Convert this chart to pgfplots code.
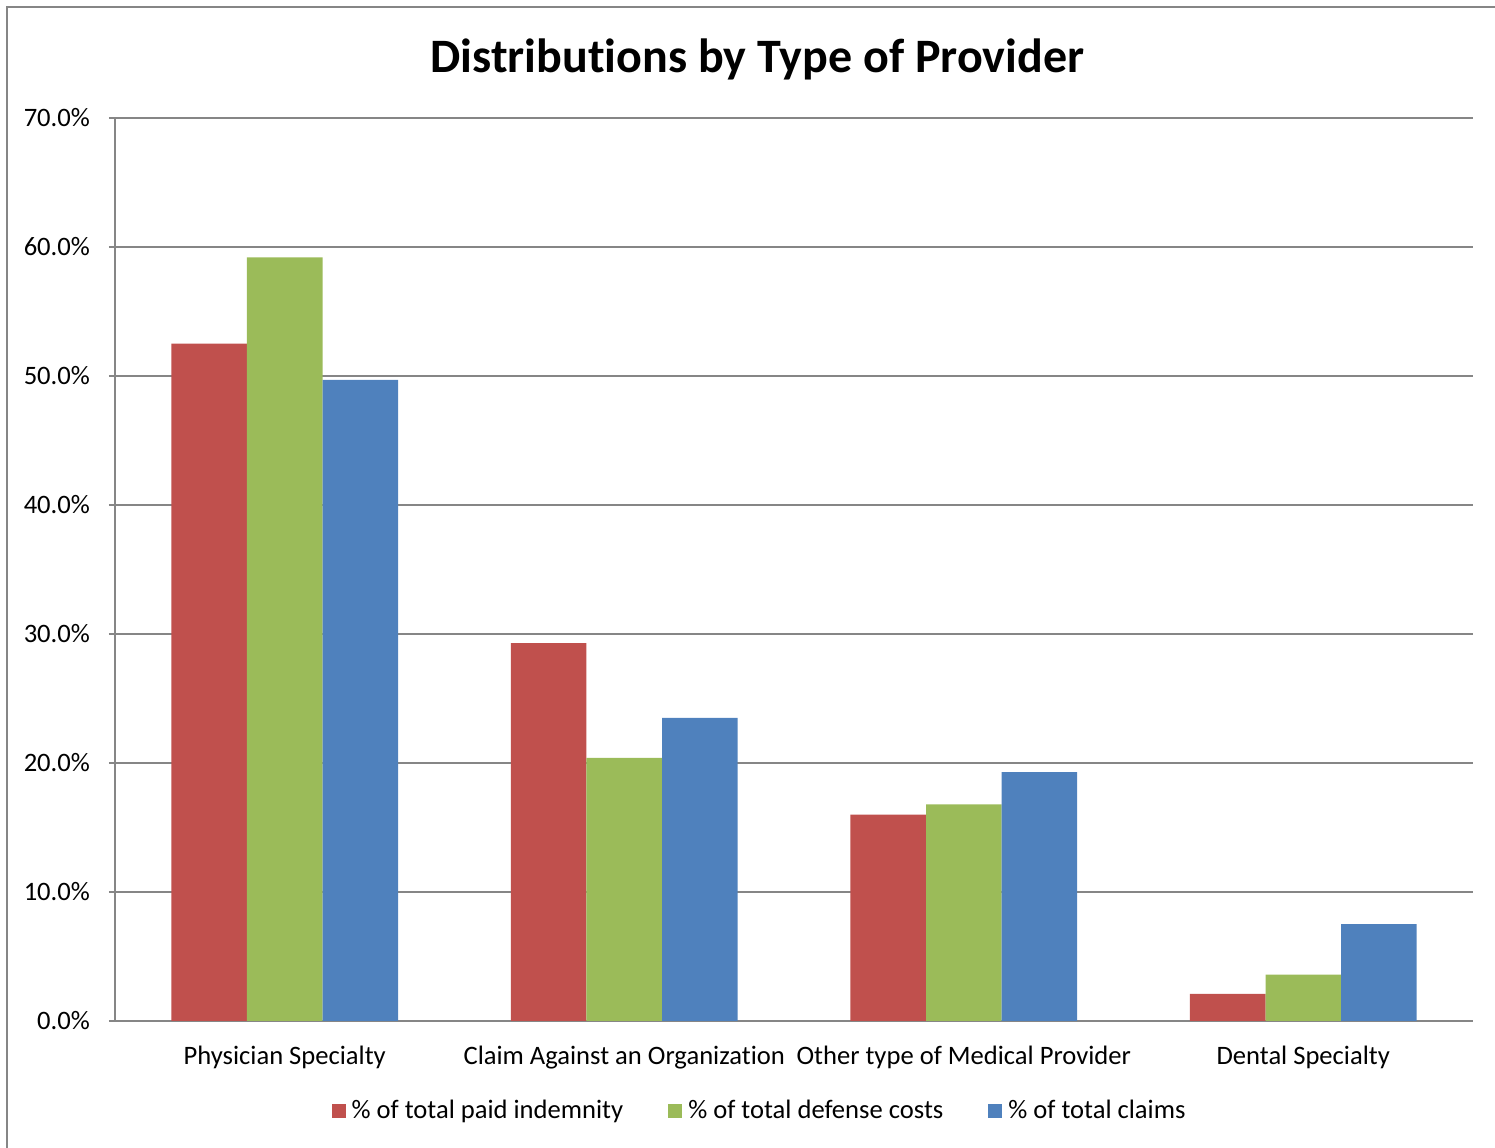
\documentclass[border=0pt]{standalone}
\usepackage{pgfplots}
\pgfplotsset{compat=1.18}
\usepackage{fontspec}
\setmainfont{Carlito}[Ligatures=CommonOff]
\definecolor{xred}{HTML}{C0504D}
\definecolor{xgreen}{HTML}{9BBB59}
\definecolor{xblue}{HTML}{4F81BD}
\definecolor{xgrid}{HTML}{868686}

\begin{document}
\begin{tikzpicture}
\begin{axis}[
    scale only axis,
    width=679pt, height=451.5pt,
    ybar=0pt,
    bar width=0.2224,
    xmin=-0.5, xmax=3.5,
    ymin=0, ymax=70,
    xtick={0,1,2,3},
    xticklabels={Physician Specialty, Claim Against an Organization, Other type of Medical Provider, Dental Specialty},
    major x tick style={draw=none},
    extra x ticks={-0.5,0.5,1.5,2.5,3.5},
    extra x tick labels={},
    extra x tick style={grid=none, major tick style={draw=xgrid, line width=0.9pt}},
    ytick={0,10,...,70},
    yticklabels={0.0\%,10.0\%,20.0\%,30.0\%,40.0\%,50.0\%,60.0\%,70.0\%},
    tick align=outside,
    major tick length=3pt,
    ytick style={draw=xgrid, line width=0.9pt},
    ymajorgrids,
    grid style={xgrid, line width=0.9pt},
    axis x line*=bottom,
    axis y line*=left,
    axis line style={xgrid, line width=0.9pt},
    tick label style={font=\fontsize{13.3}{16}\selectfont, text=black},
    yticklabel style={xshift=-6pt},
    xticklabel style={yshift=-6pt},
    title={Distributions by Type of Provider},
    title style={at={(0.473,1.052)}, anchor=center,
        font=\bfseries\fontsize{24}{29}\selectfont},
    legend style={at={(0.475,-0.0997)}, anchor=center,
        legend columns=3, draw=none,
        font=\fontsize{13.3}{16}\selectfont,
        nodes={inner sep=1.5pt},
        /tikz/every odd column/.append style={column sep=1.5pt},
        /tikz/every even column/.append style={column sep=21pt}},
]
\addplot[fill=xred, draw=none,
    legend image code/.code={\fill[xred] (0pt,-3.5pt) rectangle (7pt,3.5pt);}]
    coordinates {(0,52.5)(1,29.3)(2,16.0)(3,2.1)};
\addlegendentry{\% of total paid indemnity}
\addplot[fill=xgreen, draw=none,
    legend image code/.code={\fill[xgreen] (0pt,-3.5pt) rectangle (7pt,3.5pt);}]
    coordinates {(0,59.2)(1,20.4)(2,16.8)(3,3.6)};
\addlegendentry{\% of total defense costs}
\addplot[fill=xblue, draw=none,
    legend image code/.code={\fill[xblue] (0pt,-3.5pt) rectangle (7pt,3.5pt);}]
    coordinates {(0,49.7)(1,23.5)(2,19.3)(3,7.5)};
\addlegendentry{\% of total claims}
\coordinate (bl) at (rel axis cs:0,0);
\coordinate (tl) at (rel axis cs:0,1);
\coordinate (tr) at (rel axis cs:1,1);
\end{axis}
\draw[xgrid, line width=1pt] ([xshift=-54pt,yshift=-80pt]bl) -- ([xshift=-54pt,yshift=55.5pt]tl) -- ([xshift=30pt,yshift=55.5pt]tr);
\pgfresetboundingbox
\path[use as bounding box] ([xshift=-57.5pt,yshift=-63.5pt]bl) rectangle ([xshift=11pt,yshift=59pt]tr);
\end{tikzpicture}
\end{document}
